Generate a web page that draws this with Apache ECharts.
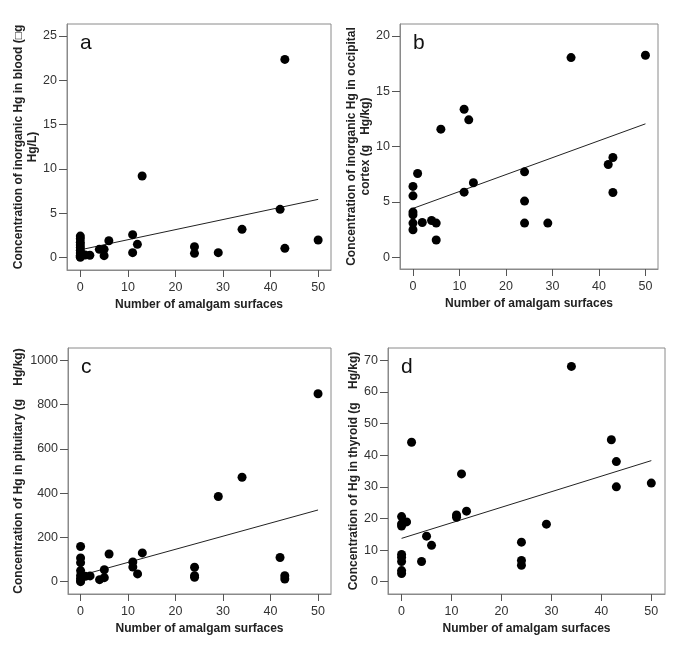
<!DOCTYPE html>
<html><head><meta charset="utf-8">
<script src="https://cdn.jsdelivr.net/npm/echarts@6/dist/echarts.min.js"></script>
<style>html,body{margin:0;padding:0;background:#fff}#c{width:685px;height:651px}</style>
</head><body><div id="c"></div>
<script>
// Panel a: blood
const aX = [0,0,0,0,0,0,0,0,0,0,1,2,4,5,5,6,11,11,12,13,24,24,29,34,42,43,43,50];
const aY = [2.4,2.1,1.7,1.4,1.1,0.8,0.5,0.25,0.1,0.0,0.26,0.23,0.9,0.9,0.19,1.88,2.56,0.53,1.47,9.19,1.2,0.45,0.53,3.16,5.42,22.36,1.02,1.96];
const aFit = [[0,0.85],[50,6.55]];
// Panel b: occipital cortex
const bX = [0,0,0,0,0,0,1,2,4,5,5,6,11,11,12,13,24,24,24,29,34,42,43,43,50];
const bY = [6.39,5.54,4.07,3.83,3.07,2.47,7.56,3.13,3.31,3.07,1.54,11.57,13.37,5.87,12.41,6.72,7.71,5.06,3.07,3.07,18.04,8.37,9.0,5.84,18.25];
const bFit = [[0,4.4],[50,12.05]];
// Panel c: pituitary
const cX = [0,0,0,0,0,0,0,0,1,2,4,5,5,6,11,11,12,13,24,24,24,29,34,42,43,43,50];
const cY = [159,107,86,50,28,15,5,0,24,26,9,54,18,125,89,66,35,130,65,27,20,385,472,109,27,12,849];
const cFit = [[0,28],[50,324]];
// Panel d: thyroid
const dX = [0,0,0,0,0,0,0,0,1,2,4,5,6,11,11,12,13,24,24,24,29,34,42,43,43,50];
const dY = [20.6,18.3,17.6,8.6,7.7,6.4,3.5,2.6,18.9,44.1,6.4,14.4,11.5,21.1,20.4,34.1,22.3,12.5,6.7,5.2,18.2,68.1,44.9,38.0,30.0,31.2];
const dFit = [[0,13.7],[50,38.3]];

const xTicks = [0,10,20,30,40,50];
const aTicks = [0,5,10,15,20,25];
const bTicks = [0,5,10,15,20];
const cTicks = [0,200,400,600,800,1000];
const dTicks = [0,10,20,30,40,50,60,70];

const xTitle = 'Number of amalgam surfaces';
const yTitles = [
  'Concentration of inorganic Hg in blood (\u25A1g\nHg/L)',
  'Concentration of inorganic Hg in occipital\ncortex (g   Hg/kg)',
  'Concentration of Hg in pituitary (g    Hg/kg)',
  'Concentration of Hg in thyroid (g    Hg/kg)'
];
const letters = ['a','b','c','d'];

const FONT = '"Liberation Sans", Arial, sans-serif';
const grids = [
  {left:67, top:24, width:264, height:246},
  {left:400, top:24, width:258, height:245},
  {left:68, top:348, width:263, height:246},
  {left:388, top:348, width:277, height:246}
];
const xr = [[-2.8,52.7],[-2.79,52.7],[-2.65,52.73],[-2.72,52.74]];
const yr = [[-1.43,26.36],[-1.08,21.08],[-55.7,1056],[-3.9,73.93]];
const yT = [aTicks,bTicks,cTicks,dTicks];
const nameGaps = [27,21,42,27];
const pts = [[aX,aY],[bX,bY],[cX,cY],[dX,dY]];
const fits = [aFit,bFit,cFit,dFit];

const option = {
  backgroundColor:'#fff',
  animation:false,
  grid: grids.map(g=>Object.assign({show:true,borderColor:'#8a8a8a',borderWidth:1,backgroundColor:'transparent'},g)),
  xAxis: grids.map((g,i)=>({
    type:'value', gridIndex:i, min:xr[i][0], max:xr[i][1],
    splitLine:{show:false},
    axisLine:{show:true,onZero:false,lineStyle:{color:'#8a8a8a'}},
    axisTick:{show:true,length:7,customValues:xTicks,lineStyle:{color:'#555'}},
    axisLabel:{customValues:xTicks,margin:11,color:'#333',fontSize:12.5,fontFamily:FONT,formatter:v=>String(v)},
    name:xTitle, nameLocation:'middle', nameGap:29,
    nameTextStyle:{fontWeight:'bold',fontSize:12,color:'#222',fontFamily:FONT}
  })),
  yAxis: grids.map((g,i)=>({
    type:'value', gridIndex:i, min:yr[i][0], max:yr[i][1],
    splitLine:{show:false},
    axisLine:{show:true,onZero:false,lineStyle:{color:'#8a8a8a'}},
    axisTick:{show:true,length:8,customValues:yT[i],lineStyle:{color:'#555'}},
    axisLabel:{customValues:yT[i],margin:10,color:'#333',fontSize:12.5,fontFamily:FONT,formatter:v=>String(v)},
    name:yTitles[i], nameLocation:'middle', nameGap:nameGaps[i],
    nameTextStyle:{fontWeight:'bold',fontSize:12,color:'#222',fontFamily:FONT,lineHeight:14}
  })),
  series: [],
  graphic: grids.map((g,i)=>({
    type:'text', left:g.left+13, top:g.top+9,
    style:{text:letters[i],font:'21px '+FONT,fill:'#111'}
  }))
};
pts.forEach((p,i)=>{
  option.series.push({
    type:'scatter', xAxisIndex:i, yAxisIndex:i,
    data:p[0].map((x,k)=>[x,p[1][k]]),
    symbolSize:9, itemStyle:{color:'#000',opacity:1}
  });
  option.series.push({
    type:'line', xAxisIndex:i, yAxisIndex:i, data:fits[i],
    symbol:'none', lineStyle:{color:'#222',width:1}, z:1
  });
});
echarts.init(document.getElementById('c')).setOption(option);
</script></body></html>
